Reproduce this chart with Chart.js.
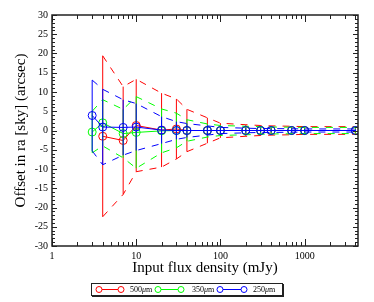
<!DOCTYPE html>
<html>
<head>
<meta charset="utf-8">
<script src="https://cdn.jsdelivr.net/npm/chart.js@4.4.0/dist/chart.umd.min.js"></script>
<style>
  html, body { margin: 0; padding: 0; background: #fff; }
  #wrap { position: relative; width: 374px; height: 302px; }
  #legend {
    position: absolute; left: 91px; top: 283px; width: 190px; height: 11px;
    border: 1px solid #222; box-shadow: 1px 1px 0 #222; background: #fff;
    font: 8px "Liberation Serif", serif; color: #000;
  }
  #legend svg { position: absolute; left: 0; top: 0; }
  #legend span { position: absolute; top: 0; line-height: 11px; }
</style>
</head>
<body>
<div id="wrap">
  <canvas id="chart" width="374" height="302"></canvas>
  <div id="legend">
    <svg width="190" height="11">
      <g fill="none" stroke-width="1">
        <line x1="7" y1="5.5" x2="29" y2="5.5" stroke="#f00"/>
        <circle cx="7" cy="5.5" r="3" stroke="#f00" fill="#fff"/>
        <circle cx="29" cy="5.5" r="3" stroke="#f00" fill="#fff"/>
        <line x1="66" y1="5.5" x2="89" y2="5.5" stroke="#0f0"/>
        <circle cx="66" cy="5.5" r="3" stroke="#0f0" fill="#fff"/>
        <circle cx="89" cy="5.5" r="3" stroke="#0f0" fill="#fff"/>
        <line x1="128" y1="5.5" x2="152" y2="5.5" stroke="#00f"/>
        <circle cx="128" cy="5.5" r="3" stroke="#00f" fill="#fff"/>
        <circle cx="152" cy="5.5" r="3" stroke="#00f" fill="#fff"/>
      </g>
    </svg>
    <span style="left:38px">500<i>μ</i>m</span>
    <span style="left:100px">350<i>μ</i>m</span>
    <span style="left:161px">250<i>μ</i>m</span>
  </div>
</div>
<script>
// Valores (fluxo em mJy, offset e erro em arcsec)
const flux500 = [4, 7, 10, 20, 30, 40, 70, 100, 200, 300, 400, 700, 1000, 4000];
const off500  = [-1.5, -2.6, 1.3, 0.1, 0.4, 0.0, 0.0, 0.0, 0.0, 0.0, 0.0, 0.0, 0.0, 0.0];
const err500  = [20.9, 14.0, 12.0, 9.6, 7.8, 5.5, 3.3, 1.9, 1.5, 1.3, 1.2, 1.1, 1.0, 1.0];

const flux350 = [3, 4, 7, 10, 20, 30, 40, 70, 100, 200, 300, 400, 700, 1000, 4000];
const off350  = [-0.4, 2.0, -0.8, -0.5, -0.1, 0.0, 0.0, 0.0, 0.0, 0.0, 0.0, 0.0, 0.0, 0.0, 0.0];
const err350  = [5.4, 6.0, 6.3, 9.3, 5.7, 4.5, 2.8, 1.7, 1.3, 1.1, 1.0, 0.9, 0.85, 0.8, 0.8];

const flux250 = [3, 4, 7, 10, 20, 30, 40, 70, 100, 200, 300, 400, 700, 1000, 4000];
const off250  = [3.9, 0.9, 0.8, 0.9, 0.1, 0.0, 0.0, 0.0, 0.0, 0.0, 0.0, 0.0, 0.0, 0.0, 0.0];
const err250  = [9.2, 9.8, 7.2, 6.1, 3.5, 2.3, 1.8, 1.2, 0.8, 0.6, 0.5, 0.5, 0.45, 0.4, 0.4];

const xLabels = [1, 10, 100, 1000];
const yMin = -30, yMax = 30, yStep = 5;

const serif = '"Liberation Serif", "Times New Roman", serif';

function points(xs, ys) {
    return xs.map((x, i) => ({ x: x, y: ys[i] }));
}
function envelope(xs, ys, es, sign) {
    return xs.map((x, i) => ({ x: x, y: ys[i] + sign * es[i] }));
}
function errorBars(xs, ys, es) {
    const out = [];
    xs.forEach((x, i) => {
        out.push({ x: x, y: ys[i] - es[i] }, { x: x, y: ys[i] + es[i] }, { x: x, y: null });
    });
    return out;
}

// Monta os datasets de uma série
function serie(xs, ys, es, color, order) {
    const base = { borderColor: color, borderWidth: 1, pointRadius: 0, fill: false, tension: 0, order: order };
    return [
        Object.assign({}, base, { data: errorBars(xs, ys, es), spanGaps: false }),
        Object.assign({}, base, { data: envelope(xs, ys, es, 1), borderDash: [7, 7] }),
        Object.assign({}, base, { data: envelope(xs, ys, es, -1), borderDash: [7, 7] }),
        Object.assign({}, base, {
            data: points(xs, ys),
            pointRadius: 4, pointStyle: 'circle',
            pointBorderColor: color, pointBackgroundColor: 'rgba(0,0,0,0)', pointBorderWidth: 1
        })
    ];
}

// Moldura e marcas para dentro (estilo xmgrace)
const frameTicks = {
    id: 'frameTicks',
    afterDraw(chart) {
        const { ctx, chartArea: a, scales: { x, y } } = chart;
        ctx.save();
        ctx.strokeStyle = '#222';
        ctx.lineWidth = 1;
        ctx.beginPath();
        for (let k = 0; k <= 3; k++) {
            for (let m = 1; m <= 9; m++) {
                const v = m * Math.pow(10, k);
                if (v > x.max) break;
                const px = Math.round(x.getPixelForValue(v)) + 0.5;
                const len = m === 1 ? 7 : 4;
                ctx.moveTo(px, a.bottom); ctx.lineTo(px, a.bottom - len);
                ctx.moveTo(px, a.top); ctx.lineTo(px, a.top + len);
            }
        }
        for (let v = yMin; v <= yMax; v++) {
            const py = Math.round(y.getPixelForValue(v)) + 0.5;
            const len = v % yStep === 0 ? 5 : 3;
            ctx.moveTo(a.left, py); ctx.lineTo(a.left + len, py);
            ctx.moveTo(a.right, py); ctx.lineTo(a.right - len, py);
        }
        ctx.stroke();
        ctx.lineWidth = 1.5;
        ctx.strokeRect(a.left, a.top, a.right - a.left, a.bottom - a.top);
        ctx.restore();
    }
};

new Chart(document.getElementById('chart').getContext('2d'), {
    type: 'line',
    data: {
        datasets: [].concat(
            serie(flux500, off500, err500, '#ff0000', 3),
            serie(flux350, off350, err350, '#00ff00', 2),
            serie(flux250, off250, err250, '#0000ff', 1)
        )
    },
    options: {
        responsive: false,
        animation: false,
        devicePixelRatio: 1,
        layout: { padding: { left: 0, right: 16, top: 15, bottom: 20 } },
        plugins: { legend: { display: false }, tooltip: { enabled: false } },
        scales: {
            x: {
                type: 'logarithmic',
                min: 1, max: 4300,
                afterBuildTicks: s => { s.ticks = xLabels.map(v => ({ value: v })); },
                afterFit: s => { s.height = 36; },
                grid: { display: false, drawTicks: false },
                border: { display: false },
                ticks: {
                    padding: 4, color: '#000', maxRotation: 0, autoSkip: false,
                    font: { family: serif, size: 10 },
                    callback: v => String(v)
                },
                title: {
                    display: true, text: 'Input flux density (mJy)', color: '#000',
                    font: { family: serif, size: 15 }, padding: { top: 0, bottom: 5 }
                }
            },
            y: {
                min: yMin, max: yMax,
                afterFit: s => { s.width = 52; },
                grid: { display: false, drawTicks: false },
                border: { display: false },
                ticks: {
                    stepSize: yStep, padding: 4, color: '#000',
                    font: { family: serif, size: 10 }
                },
                title: {
                    display: true, text: 'Offset in ra [sky] (arcsec)', color: '#000',
                    font: { family: serif, size: 15 }, padding: { top: 12, bottom: 0 }
                }
            }
        }
    },
    plugins: [frameTicks]
});
</script>
</body>
</html>
